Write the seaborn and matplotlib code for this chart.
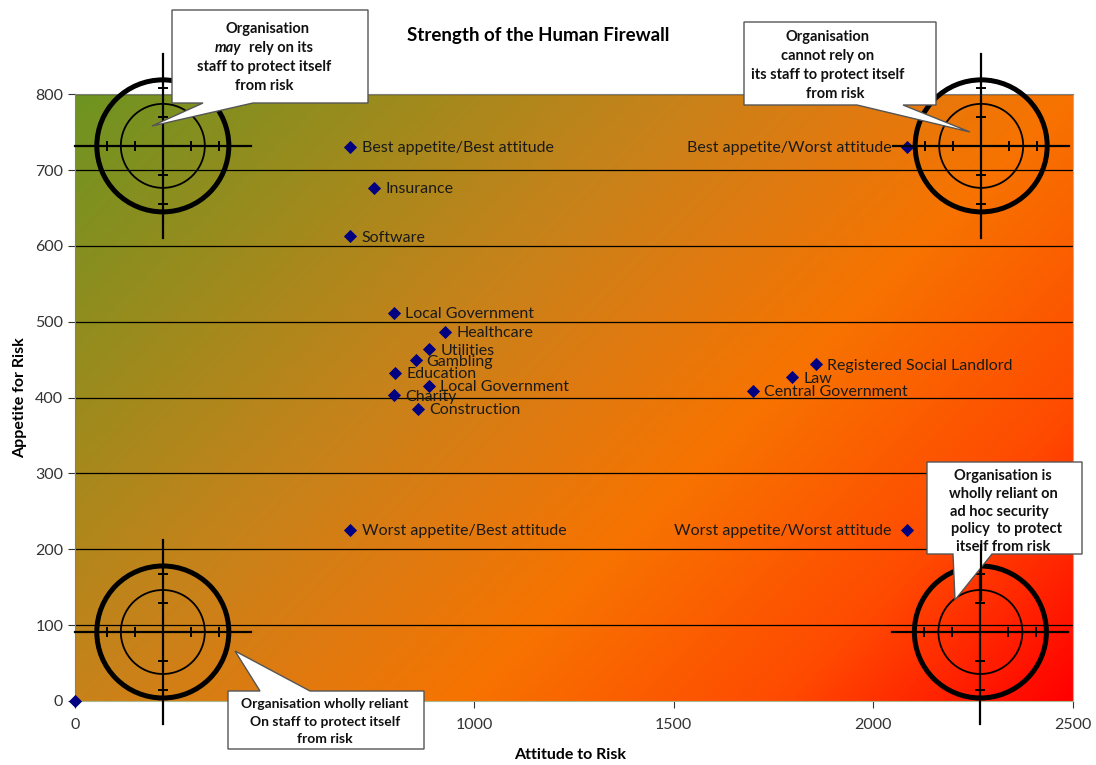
import numpy as np
import pandas as pd
import matplotlib
matplotlib.use("Agg")
import matplotlib.pyplot as plt
from matplotlib.colors import LinearSegmentedColormap
from matplotlib.patches import Ellipse, Polygon
from matplotlib.lines import Line2D
import seaborn as sns

# sector data
sectors = ["Best appetite/Best attitude", "Insurance", "Software", "Local Government",
           "Healthcare", "Utilities", "Gambling", "Education", "Local Government",
           "Charity", "Construction", "Registered Social Landlord", "Law",
           "Central Government", "Best appetite/Worst attitude",
           "Worst appetite/Best attitude", "Worst appetite/Worst attitude", ""]
attitude = [690, 750, 690, 800, 927, 888, 853, 802, 886, 800, 860,
            1855, 1797, 1698, 2083, 690, 2083, 0]
appetite = [731, 677, 613, 512, 487, 464, 449, 433, 416, 403, 385,
            444, 427, 409, 731, 226, 226, 0]
label_left = ["Best appetite/Worst attitude", "Worst appetite/Worst attitude"]

x_ticks = [0, 500, 1000, 1500, 2000, 2500]
x_tick_labels = ["0", "", "1000", "1500", "2000", "2500"]  # 500 sits under a callout
y_ticks = [0, 100, 200, 300, 400, 500, 600, 700, 800]

# crosshair targets (data coords)
targets = [(220, 732), (2270, 732), (220, 91), (2268, 91)]

W, H = 1096, 765
plt.rcParams['font.family'] = ['Lato', 'DejaVu Sans']

fig = plt.figure(figsize=(W / 100, H / 100), dpi=100)
ax_px = (75, 94.3, 1073, 701)  # left, top, right, bottom in pixels
ax = fig.add_axes([ax_px[0] / W, 1 - ax_px[3] / H,
                   (ax_px[2] - ax_px[0]) / W, (ax_px[3] - ax_px[1]) / H])

# background gradient, green top-left to red bottom-right
cmap = LinearSegmentedColormap.from_list("fw", [
    (0.0, "#6E9421"), (0.38, "#C8821A"), (0.5, "#E07A10"),
    (0.62, "#F77300"), (0.82, "#FF4A00"), (1.0, "#FF0000")])
pw, ph = ax_px[2] - ax_px[0], ax_px[3] - ax_px[1]
xx, yy = np.meshgrid(np.linspace(0, 1, 400), np.linspace(0, 1, 300))
tt = (xx * pw + yy * ph) / (pw + ph)
ax.imshow(tt, cmap=cmap, extent=(0, 2500, 0, 800), origin="upper",
          aspect="auto", zorder=0, interpolation="bilinear")

for yv in y_ticks[1:]:
    ax.axhline(yv, color="black", lw=0.9, zorder=1)

df = pd.DataFrame({"attitude": attitude, "appetite": appetite, "sector": sectors})
sns.scatterplot(data=df, x="attitude", y="appetite", marker="D", s=45,
                color="#000080", edgecolor="#000080", linewidth=0,
                ax=ax, zorder=4, clip_on=False, legend=False)

for name, xv, yv in zip(sectors, attitude, appetite):
    if not name:
        continue
    if name in label_left:
        ax.annotate(name, (xv, yv), xytext=(-11, -1), textcoords="offset points",
                    ha="right", va="center", fontsize=11.5, color="#1a1a1a", zorder=5)
    else:
        ax.annotate(name, (xv, yv), xytext=(8, -1), textcoords="offset points",
                    ha="left", va="center", fontsize=11.5, color="#1a1a1a", zorder=5)

ax.set_xlim(0, 2500)
ax.set_ylim(0, 800)
ax.set_xticks(x_ticks)
ax.set_xticklabels(x_tick_labels)
ax.set_yticks(y_ticks)
ax.tick_params(labelsize=11.5, colors="#333333", length=5, direction="out")
ax.tick_params(axis="x", pad=7)
for sp in ax.spines.values():
    sp.set_color("#808080")
ax.spines["right"].set_color("#A9B88E")
ax.spines["bottom"].set_color("#A9B88E")
ax.set_xlabel("")
ax.set_ylabel("Appetite for Risk", fontsize=11.5, fontweight="bold", labelpad=6)
fig.text(570 / W, 1 - 755 / H, "Attitude to Risk", ha="center", va="center",
         fontsize=11.5, fontweight="bold")
fig.text(538 / W, 1 - 35 / H, "Strength of the Human Firewall", ha="center",
         va="center", fontsize=13.5, fontweight="bold")

# crosshair targets drawn in pixel sizes
sx = 2500 / pw
sy = 800 / ph


def draw_target(cx, cy):
    kw = dict(color="black", clip_on=False, zorder=6)
    ax.add_patch(Ellipse((cx, cy), 2 * 66 * sx, 2 * 66 * sy, fill=False,
                         lw=3.6, ec="black", clip_on=False, zorder=6))
    ax.add_patch(Ellipse((cx, cy), 2 * 42 * sx, 2 * 42 * sy, fill=False,
                         lw=1.3, ec="black", clip_on=False, zorder=6))
    ax.plot([cx - 88 * sx, cx + 88 * sx], [cy, cy], lw=1.6, **kw)
    ax.plot([cx, cx], [cy - 92 * sy, cy + 92 * sy], lw=1.6, **kw)
    for d in (-56, -28, 28, 56):
        ax.plot([cx + d * sx] * 2, [cy - 4 * sy, cy + 4 * sy], lw=1.4, **kw)
    for d in (-58, -29, 29, 58):
        ax.plot([cx - 4 * sx, cx + 4 * sx], [cy + d * sy] * 2, lw=1.4, **kw)


for cx, cy in targets:
    draw_target(cx, cy)


def fx(p):
    return p / W


def fy(p):
    return 1 - p / H


def callout(box, tip, base, edge):
    x0, y0, x1, y1 = box
    xa, xb = base
    if edge == "bottom":
        pts = [(x0, y0), (x1, y0), (x1, y1), (xb, y1), tip, (xa, y1), (x0, y1)]
    else:
        pts = [(x0, y0), (xa, y0), tip, (xb, y0), (x1, y0), (x1, y1), (x0, y1)]
    poly = Polygon([(fx(a), fy(b)) for a, b in pts], closed=True,
                   transform=fig.transFigure, fc="white", ec="#555555",
                   lw=1.0, zorder=10)
    fig.add_artist(poly)


def lines(xc, ytop, rows, step=19, size=10.5):
    for k, row in enumerate(rows):
        fig.text(fx(xc), fy(ytop + k * step), row, ha="center", va="center",
                 fontsize=size, fontweight="bold", color="#111111", zorder=11)


# top-left callout
callout((172, 10, 368, 103), (152, 126), (203, 253), "bottom")
fig.text(fx(268), fy(29), "Organisation", ha="center", va="center",
         fontsize=10.5, fontweight="bold", color="#111111", zorder=11)
fig.text(fx(241), fy(48), "may", ha="right", va="center", fontsize=10.5,
         fontweight="bold", style="italic", color="#111111", zorder=11)
fig.text(fx(249), fy(48), "rely on its", ha="left", va="center",
         fontsize=10.5, fontweight="bold", color="#111111", zorder=11)
lines(264, 67, ["staff to protect itself", "from risk"])

# top-right callout
callout((744, 22, 936, 105), (970, 132), (857, 903), "bottom")
lines(828, 37, ["Organisation", "cannot rely on", "its staff to protect itself",
                "    from risk"])

# bottom-left callout
callout((228, 691, 424, 749), (235, 651), (260, 310), "top")
lines(325, 704, ["Organisation wholly reliant", "On staff to protect itself",
                 "from risk"], step=17.5, size=10)

# bottom-right callout
callout((927, 462, 1082, 554), (955, 600), (953, 992), "bottom")
lines(1003, 476, ["Organisation is", "wholly reliant on", "ad hoc security  ",
                  "  policy  to protect", "itself from risk"], step=17.8)
# the last target's vertical hair runs over its callout box
fig.add_artist(Line2D([fx(981), fx(981)], [fy(545), fy(600)], color="black",
                      lw=1.6, transform=fig.transFigure, zorder=12))

fig.savefig("out.png", dpi=100, facecolor="white")
